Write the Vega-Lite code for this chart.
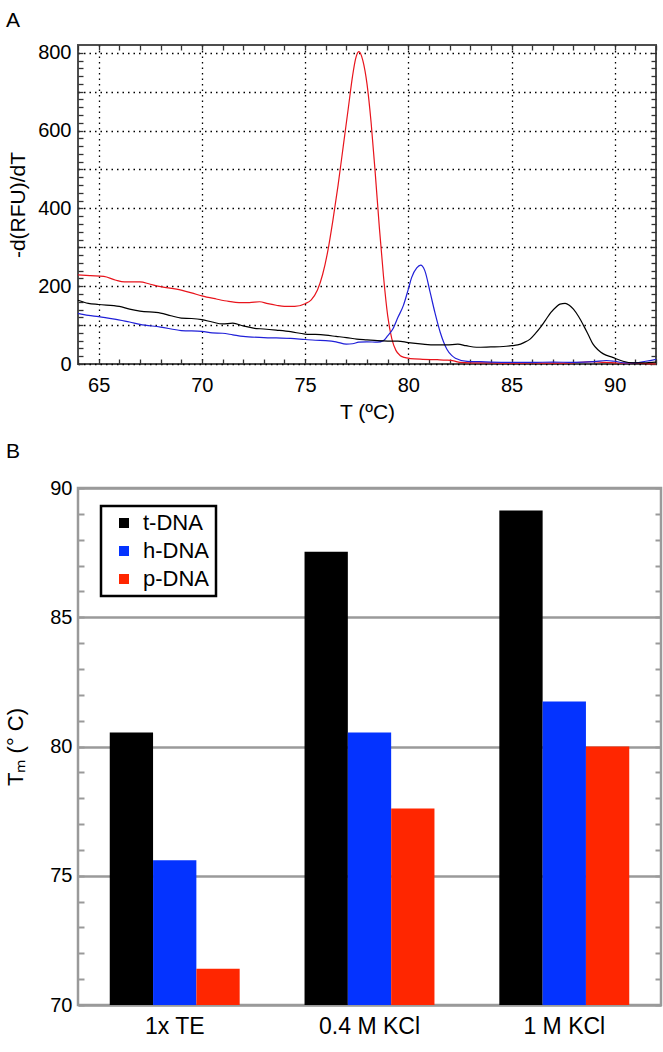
{
"$schema": "https://vega.github.io/schema/vega-lite/v6.json",
"background": "white",
"padding": {"left": 2, "top": 8, "right": 2, "bottom": 5},
"spacing": 16,
"resolve": {"scale": {"color": "independent"}, "legend": {"color": "independent"}},
"config": {"font": "Liberation Sans", "legend": {"strokeWidth": 2.5}, "axis": {"labelFont": "Liberation Sans", "titleFont": "Liberation Sans", "titleFontWeight": "normal", "labelColor": "#000", "titleColor": "#000"}},
"datasets": {
"melt": [
{"T":64,"v":229,"s":"p-DNA"},{"T":64.6,"v":227,"s":"p-DNA"},{"T":65.25,"v":225,"s":"p-DNA"},{"T":65.8,"v":216,"s":"p-DNA"},{"T":66.25,"v":211,"s":"p-DNA"},{"T":67,"v":211,"s":"p-DNA"},{"T":67.5,"v":205,"s":"p-DNA"},{"T":68,"v":199,"s":"p-DNA"},{"T":69,"v":190,"s":"p-DNA"},{"T":69.5,"v":183,"s":"p-DNA"},{"T":70,"v":175,"s":"p-DNA"},{"T":70.7,"v":167,"s":"p-DNA"},{"T":71.3,"v":161,"s":"p-DNA"},{"T":71.8,"v":158,"s":"p-DNA"},{"T":72.3,"v":158,"s":"p-DNA"},{"T":72.8,"v":160,"s":"p-DNA"},{"T":73.2,"v":155,"s":"p-DNA"},{"T":73.6,"v":151,"s":"p-DNA"},{"T":74,"v":148,"s":"p-DNA"},{"T":74.5,"v":148,"s":"p-DNA"},{"T":75,"v":155,"s":"p-DNA"},{"T":75.3,"v":165,"s":"p-DNA"},{"T":75.6,"v":190,"s":"p-DNA"},{"T":75.85,"v":230,"s":"p-DNA"},{"T":76.1,"v":290,"s":"p-DNA"},{"T":76.35,"v":370,"s":"p-DNA"},{"T":76.6,"v":460,"s":"p-DNA"},{"T":76.85,"v":560,"s":"p-DNA"},{"T":77.1,"v":660,"s":"p-DNA"},{"T":77.3,"v":740,"s":"p-DNA"},{"T":77.45,"v":785,"s":"p-DNA"},{"T":77.6,"v":803,"s":"p-DNA"},{"T":77.8,"v":780,"s":"p-DNA"},{"T":78,"v":720,"s":"p-DNA"},{"T":78.2,"v":620,"s":"p-DNA"},{"T":78.4,"v":490,"s":"p-DNA"},{"T":78.6,"v":350,"s":"p-DNA"},{"T":78.8,"v":225,"s":"p-DNA"},{"T":79,"v":125,"s":"p-DNA"},{"T":79.2,"v":65,"s":"p-DNA"},{"T":79.4,"v":35,"s":"p-DNA"},{"T":79.6,"v":22,"s":"p-DNA"},{"T":79.8,"v":17,"s":"p-DNA"},{"T":80.1,"v":14,"s":"p-DNA"},{"T":80.7,"v":12,"s":"p-DNA"},{"T":81.4,"v":11,"s":"p-DNA"},{"T":81.85,"v":10,"s":"p-DNA"},{"T":82.2,"v":8,"s":"p-DNA"},{"T":82.5,"v":4,"s":"p-DNA"},{"T":83,"v":3,"s":"p-DNA"},{"T":84,"v":3,"s":"p-DNA"},{"T":85,"v":2,"s":"p-DNA"},{"T":86,"v":3,"s":"p-DNA"},{"T":87,"v":2,"s":"p-DNA"},{"T":88,"v":3,"s":"p-DNA"},{"T":88.9,"v":6,"s":"p-DNA"},{"T":89.5,"v":4,"s":"p-DNA"},{"T":90,"v":3,"s":"p-DNA"},{"T":90.5,"v":2,"s":"p-DNA"},{"T":91,"v":2,"s":"p-DNA"},{"T":91.5,"v":1,"s":"p-DNA"},{"T":92,"v":0,"s":"p-DNA"},
{"T":64,"v":130,"s":"h-DNA"},{"T":64.5,"v":125,"s":"h-DNA"},{"T":65,"v":122,"s":"h-DNA"},{"T":65.9,"v":114,"s":"h-DNA"},{"T":66.5,"v":108,"s":"h-DNA"},{"T":67,"v":102,"s":"h-DNA"},{"T":68,"v":95,"s":"h-DNA"},{"T":69,"v":86,"s":"h-DNA"},{"T":70,"v":84,"s":"h-DNA"},{"T":70.5,"v":80,"s":"h-DNA"},{"T":71,"v":79,"s":"h-DNA"},{"T":71.5,"v":75,"s":"h-DNA"},{"T":72,"v":71,"s":"h-DNA"},{"T":73,"v":68,"s":"h-DNA"},{"T":73.6,"v":67,"s":"h-DNA"},{"T":74.3,"v":66,"s":"h-DNA"},{"T":75,"v":63,"s":"h-DNA"},{"T":75.5,"v":61,"s":"h-DNA"},{"T":76,"v":60,"s":"h-DNA"},{"T":76.5,"v":57,"s":"h-DNA"},{"T":77,"v":51,"s":"h-DNA"},{"T":77.3,"v":52,"s":"h-DNA"},{"T":77.6,"v":56,"s":"h-DNA"},{"T":78,"v":57,"s":"h-DNA"},{"T":78.5,"v":56,"s":"h-DNA"},{"T":78.8,"v":60,"s":"h-DNA"},{"T":79,"v":72,"s":"h-DNA"},{"T":79.25,"v":90,"s":"h-DNA"},{"T":79.5,"v":120,"s":"h-DNA"},{"T":79.76,"v":150,"s":"h-DNA"},{"T":80,"v":192,"s":"h-DNA"},{"T":80.16,"v":222,"s":"h-DNA"},{"T":80.41,"v":247,"s":"h-DNA"},{"T":80.6,"v":254,"s":"h-DNA"},{"T":80.8,"v":240,"s":"h-DNA"},{"T":81.06,"v":184,"s":"h-DNA"},{"T":81.3,"v":130,"s":"h-DNA"},{"T":81.55,"v":81,"s":"h-DNA"},{"T":81.87,"v":38,"s":"h-DNA"},{"T":82.1,"v":22,"s":"h-DNA"},{"T":82.28,"v":15,"s":"h-DNA"},{"T":82.85,"v":7,"s":"h-DNA"},{"T":83.5,"v":6,"s":"h-DNA"},{"T":84,"v":5,"s":"h-DNA"},{"T":85,"v":4,"s":"h-DNA"},{"T":86,"v":4,"s":"h-DNA"},{"T":87,"v":5,"s":"h-DNA"},{"T":88,"v":4,"s":"h-DNA"},{"T":89,"v":6,"s":"h-DNA"},{"T":89.6,"v":9,"s":"h-DNA"},{"T":90,"v":7,"s":"h-DNA"},{"T":90.5,"v":3,"s":"h-DNA"},{"T":91,"v":3,"s":"h-DNA"},{"T":91.5,"v":7,"s":"h-DNA"},{"T":92,"v":12,"s":"h-DNA"},
{"T":64,"v":164,"s":"t-DNA"},{"T":64.5,"v":156,"s":"t-DNA"},{"T":65,"v":153,"s":"t-DNA"},{"T":66,"v":148,"s":"t-DNA"},{"T":66.5,"v":141,"s":"t-DNA"},{"T":67,"v":136,"s":"t-DNA"},{"T":68,"v":131,"s":"t-DNA"},{"T":68.5,"v":124,"s":"t-DNA"},{"T":69,"v":118,"s":"t-DNA"},{"T":69.5,"v":117,"s":"t-DNA"},{"T":70,"v":114,"s":"t-DNA"},{"T":70.5,"v":108,"s":"t-DNA"},{"T":71,"v":103,"s":"t-DNA"},{"T":71.5,"v":105,"s":"t-DNA"},{"T":72,"v":98,"s":"t-DNA"},{"T":72.5,"v":92,"s":"t-DNA"},{"T":73,"v":90,"s":"t-DNA"},{"T":73.6,"v":87,"s":"t-DNA"},{"T":74.3,"v":83,"s":"t-DNA"},{"T":75,"v":77,"s":"t-DNA"},{"T":75.5,"v":76,"s":"t-DNA"},{"T":76,"v":74,"s":"t-DNA"},{"T":76.5,"v":71,"s":"t-DNA"},{"T":77,"v":68,"s":"t-DNA"},{"T":77.5,"v":64,"s":"t-DNA"},{"T":78,"v":62,"s":"t-DNA"},{"T":78.5,"v":60,"s":"t-DNA"},{"T":79,"v":59,"s":"t-DNA"},{"T":79.5,"v":59,"s":"t-DNA"},{"T":80,"v":55,"s":"t-DNA"},{"T":80.7,"v":51,"s":"t-DNA"},{"T":81.3,"v":49,"s":"t-DNA"},{"T":81.85,"v":49,"s":"t-DNA"},{"T":82.4,"v":51,"s":"t-DNA"},{"T":82.8,"v":47,"s":"t-DNA"},{"T":83.3,"v":43,"s":"t-DNA"},{"T":84,"v":44,"s":"t-DNA"},{"T":84.6,"v":45,"s":"t-DNA"},{"T":85,"v":47,"s":"t-DNA"},{"T":85.3,"v":49,"s":"t-DNA"},{"T":85.6,"v":55,"s":"t-DNA"},{"T":85.9,"v":64,"s":"t-DNA"},{"T":86.15,"v":78,"s":"t-DNA"},{"T":86.4,"v":94,"s":"t-DNA"},{"T":86.65,"v":113,"s":"t-DNA"},{"T":86.9,"v":132,"s":"t-DNA"},{"T":87.15,"v":146,"s":"t-DNA"},{"T":87.35,"v":154,"s":"t-DNA"},{"T":87.6,"v":156,"s":"t-DNA"},{"T":87.8,"v":151,"s":"t-DNA"},{"T":88,"v":141,"s":"t-DNA"},{"T":88.25,"v":122,"s":"t-DNA"},{"T":88.5,"v":98,"s":"t-DNA"},{"T":88.75,"v":72,"s":"t-DNA"},{"T":88.95,"v":51,"s":"t-DNA"},{"T":89.2,"v":36,"s":"t-DNA"},{"T":89.45,"v":26,"s":"t-DNA"},{"T":89.9,"v":17,"s":"t-DNA"},{"T":90.4,"v":7,"s":"t-DNA"},{"T":90.9,"v":3,"s":"t-DNA"},{"T":91.4,"v":3,"s":"t-DNA"},{"T":92,"v":5,"s":"t-DNA"}
],
"tm": [
{"cond":"1x TE","dna":"t-DNA","tm":80.54},{"cond":"1x TE","dna":"h-DNA","tm":75.6},{"cond":"1x TE","dna":"p-DNA","tm":71.4},
{"cond":"0.4 M KCl","dna":"t-DNA","tm":87.53},{"cond":"0.4 M KCl","dna":"h-DNA","tm":80.54},{"cond":"0.4 M KCl","dna":"p-DNA","tm":77.6},
{"cond":"1 M KCl","dna":"t-DNA","tm":89.13},{"cond":"1 M KCl","dna":"h-DNA","tm":81.74},{"cond":"1 M KCl","dna":"p-DNA","tm":80.0}
]
},
"vconcat": [
{
"title": {"text": "A", "anchor": "start", "frame": "group", "dx": -72, "fontSize": 21, "fontWeight": "normal", "offset": -5, "baseline": "alphabetic", "font": "Liberation Sans"},
"width": 578, "height": 319,
"view": {"stroke": "#4d4d4d", "strokeWidth": 2},
"data": {"name": "melt"},
"layer": [
{"mark": {"type": "line", "strokeWidth": 1.2, "interpolate": "monotone"},
"encoding": {
"x": {"field": "T", "type": "quantitative", "scale": {"domain": [64, 92], "nice": false, "zero": false},
 "axis": {"title": "T (ºC)", "titleFontSize": 21, "titlePadding": 6, "values": [64,65,66,67,68,69,70,71,72,73,74,75,76,77,78,79,80,81,82,83,84,85,86,87,88,89,90,91,92],
 "labelExpr": "datum.value % 5 === 0 ? datum.label : ''", "labelOverlap": false, "labelFontSize": 20, "labelPadding": 16,
 "domain": false, "tickSize": -5, "tickColor": "#333", "tickWidth": 1.3,
 "grid": true, "gridColor": "#000", "gridDash": [1.5, 4], "gridWidth": 1.3,
 "gridOpacity": {"condition": {"test": "datum.value % 5 === 0", "value": 1}, "value": 0}}},
"y": {"field": "v", "type": "quantitative", "scale": {"domain": [0, 820], "nice": false},
 "axis": {"title": "-d(RFU)/dT", "titleFontSize": 21, "titleX": -50, "titleY": 159.5, "values": [0,20,40,60,80,100,120,140,160,180,200,220,240,260,280,300,320,340,360,380,400,420,440,460,480,500,520,540,560,580,600,620,640,660,680,700,720,740,760,780,800],
 "labelExpr": "datum.value % 200 === 0 ? datum.label : ''", "labelOverlap": false, "labelFontSize": 20, "labelPadding": 12,
 "domain": false, "tickSize": -5, "tickColor": "#333", "tickWidth": 1.3,
 "grid": true, "gridColor": "#000", "gridDash": [1.5, 4], "gridWidth": 1.3,
 "gridOpacity": {"condition": {"test": "datum.value % 100 === 0", "value": 1}, "value": 0}}},
"color": {"field": "s", "type": "nominal", "scale": {"domain": ["t-DNA", "h-DNA", "p-DNA"], "range": ["#000000", "#2020d8", "#e8141c"]}, "legend": null}
}},
{"mark": {"type": "line", "opacity": 0},
"encoding": {
"x": {"field": "T", "type": "quantitative", "axis": {"title": null, "values": [64,65,66,67,68,69,70,71,72,73,74,75,76,77,78,79,80,81,82,83,84,85,86,87,88,89,90,91,92], "labels": false, "domain": false, "grid": false, "tickSize": -5, "tickColor": "#333", "tickWidth": 1.3}},
"y": {"field": "v", "type": "quantitative", "axis": {"title": null, "values": [0,20,40,60,80,100,120,140,160,180,200,220,240,260,280,300,320,340,360,380,400,420,440,460,480,500,520,540,560,580,600,620,640,660,680,700,720,740,760,780,800], "labels": false, "domain": false, "grid": false, "tickSize": -5, "tickColor": "#333", "tickWidth": 1.3}},
"detail": {"field": "s"}
}}
],
"resolve": {"axis": {"x": "independent", "y": "independent"}}
},
{
"title": {"text": "B", "anchor": "start", "frame": "group", "dx": -72, "fontSize": 21, "fontWeight": "normal", "offset": -1, "baseline": "alphabetic", "font": "Liberation Sans"},
"width": 583, "height": 517,
"view": {"stroke": "#9a9a9a", "strokeWidth": 2.5},
"data": {"name": "tm"},
"layer": [
{"mark": {"type": "bar"},
"encoding": {
"x": {"field": "cond", "type": "nominal", "sort": ["1x TE", "0.4 M KCl", "1 M KCl"], "scale": {"paddingInner": 0.333, "paddingOuter": 0.163},
 "axis": {"title": null, "labelAngle": 0, "labelFontSize": 23, "ticks": false, "domain": false, "labelPadding": 10}},
"xOffset": {"field": "dna", "type": "nominal", "sort": ["t-DNA", "h-DNA", "p-DNA"], "scale": {"paddingInner": 0, "paddingOuter": 0}},
"y": {"field": "tm", "type": "quantitative", "scale": {"domain": [70, 90], "nice": false, "zero": false},
 "axis": {"title": "Tₘ (° C)", "titleFontSize": 22, "titleX": -51, "titleY": 258.5, "values": [70,71,72,73,74,75,76,77,78,79,80,81,82,83,84,85,86,87,88,89,90],
 "labelExpr": "datum.value % 5 === 0 ? datum.label : ''", "labelOverlap": false, "labelFontSize": 20, "labelPadding": 12,
 "domain": false, "tickSize": -6, "tickColor": "#9a9a9a", "tickWidth": 2,
 "grid": true, "gridColor": "#9a9a9a", "gridWidth": 2.5,
 "gridOpacity": {"condition": {"test": "datum.value % 5 === 0", "value": 1}, "value": 0}}},
"y2": {"datum": 70},
"color": {"field": "dna", "type": "nominal", "scale": {"domain": ["t-DNA", "h-DNA", "p-DNA"], "range": ["#000000", "#0433ff", "#ff2600"]},
 "legend": {"title": null, "orient": "none", "legendX": 23, "legendY": 18, "strokeColor": "#000", "fillColor": "white", "padding": 6, "symbolOffset": 6, "symbolType": "square", "symbolSize": 100, "symbolStrokeWidth": 0, "symbolOpacity": 1, "labelFontSize": 22, "labelFont": "Liberation Sans", "labelOffset": 8, "rowPadding": 6, "labelColor": "#000", "labelExpr": "datum.label + '  '"}}
}},
{"mark": {"type": "point", "opacity": 0},
"encoding": {
"y": {"field": "tm", "type": "quantitative", "axis": {"title": null, "values": [70,71,72,73,74,75,76,77,78,79,80,81,82,83,84,85,86,87,88,89,90], "labels": false, "domain": false, "grid": false, "tickSize": -6, "tickColor": "#9a9a9a", "tickWidth": 2}}
}}
],
"resolve": {"axis": {"y": "independent"}}
}
]
}
